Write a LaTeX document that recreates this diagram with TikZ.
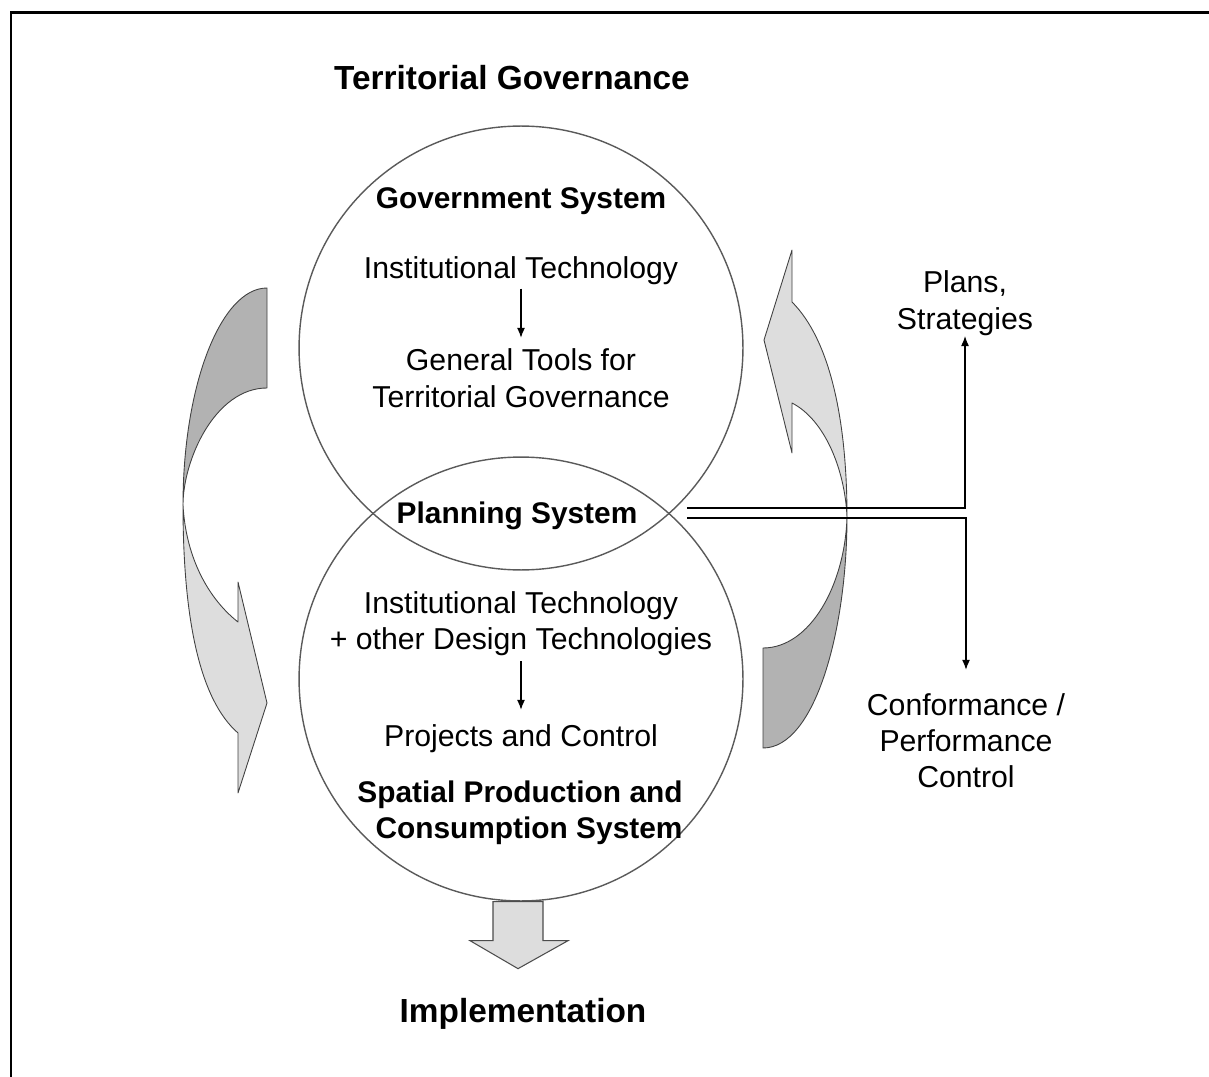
\documentclass[tikz,border=0pt]{standalone}
\usepackage{fontspec}
\setmainfont{Liberation Sans}
\usetikzlibrary{positioning,arrows.meta}
\definecolor{darkband}{HTML}{B2B2B2}
\definecolor{lightband}{HTML}{DDDDDD}
\definecolor{rimgray}{HTML}{5A5A5A}
\tikzset{
  sys/.style={circle, draw=rimgray, line width=0.8pt, minimum size=8.88cm, inner sep=0pt},
  txt/.style={inner sep=0pt, anchor=base, font=\fontsize{17.2}{20.6}\selectfont},
  hd/.style={inner sep=0pt, anchor=base, font=\bfseries\fontsize{17}{20.6}\selectfont},
  ttl/.style={inner sep=0pt, anchor=base, font=\bfseries\fontsize{19}{23}\selectfont},
  band/.style={draw=black!75, line width=0.5pt, line join=round},
  blockarrow/.style={fill=lightband, draw=black!70, line width=0.6pt},
  tip/.style={-{Latex[length=0.2cm,width=0.16cm]}, line width=0.6pt}
}

\begin{document}
\begin{tikzpicture}[x=0.02cm, y=-0.02cm]
    \useasboundingbox (0,0) rectangle (1209,1077);
    \draw[line width=0.06cm] (11,1077) -- (11,13) -- (1209,13);

    \filldraw[band, fill=darkband] (267,288) .. controls (221,288) and (183,385) .. (183,505)
        .. controls (183,460) and (215,388) .. (267,388) -- cycle;
    \filldraw[band, fill=lightband] (183,505) .. controls (183,620) and (200,700) .. (238,733)
        -- (238,793) -- (267,703) -- (238,582) -- (238,622)
        .. controls (210,600) and (186,560) .. (183,505) -- cycle;

    \filldraw[band, fill=darkband] (763,748) .. controls (815,748) and (847,630) .. (847,517)
        .. controls (845,585) and (810,648) .. (763,648) -- cycle;
    \filldraw[band, fill=lightband] (847,517) .. controls (847,420) and (830,340) .. (792,302)
        -- (792,250) -- (764,340) -- (792,453) -- (792,403)
        .. controls (825,420) and (845,470) .. (847,517) -- cycle;

    \node (GOV) [sys] at (521,348) {};
    \node (SPC) [sys] at (521,679) {};

    \node (TG) [ttl] at (512,90) {Territorial Governance};
    \node (GS) [hd] at (521,209) {Government System};
    \node (IT) [txt] at (521,279) {Institutional Technology};
    \node (GT) [txt] at (521,371) {General Tools for};
    \node (TGV) [txt, below = 0.73cm of GT.base, anchor=base] {Territorial Governance};
    \draw[tip, shorten <=0.06cm, shorten >=0.22cm] (IT) -- (GT);

    \node (PS) [hd] at (517,523) {Planning System};
    \node (IT2) [txt] at (521,613) {Institutional Technology};
    \node (DT) [txt, below = 0.73cm of IT2.base, anchor=base] {+ other Design Technologies};
    \node (PC) [txt] at (521,746) {Projects and Control};
    \draw[tip, shorten <=0.1cm, shorten >=0.28cm] (DT) -- (PC);
    \node (SPA) [hd] at (520,802) {Spatial Production and};
    \node (CS) [hd] at (529,838) {Consumption System};

    \node (IM) [ttl] at (523,1022) {Implementation};
    \filldraw[blockarrow] ([xshift=-0.56cm]SPC.south) -- ++(0,39) -- ++(-23,0) -- ++(48,28)
        -- ++(50,-28) -- ++(-25,0) -- ++(0,-39) -- cycle;

    \node (PL) [txt] at (965,293) {Plans,};
    \node (ST) [txt, below = 0.73cm of PL.base, anchor=base] {Strategies};
    \node (CF) [txt] at (966,715) {Conformance /};
    \node (PF) [txt, below = 0.73cm of CF.base, anchor=base] {Performance};
    \node (CT) [txt, below = 0.73cm of PF.base, anchor=base] {Control};

    \coordinate (P1) at (687,508);
    \coordinate (P2) at (687,518);
    \draw[tip] (P1) -| (ST.south);
    \draw[tip, shorten >=0.46cm] (P2) -| (CF.north);
\end{tikzpicture}
\end{document}
